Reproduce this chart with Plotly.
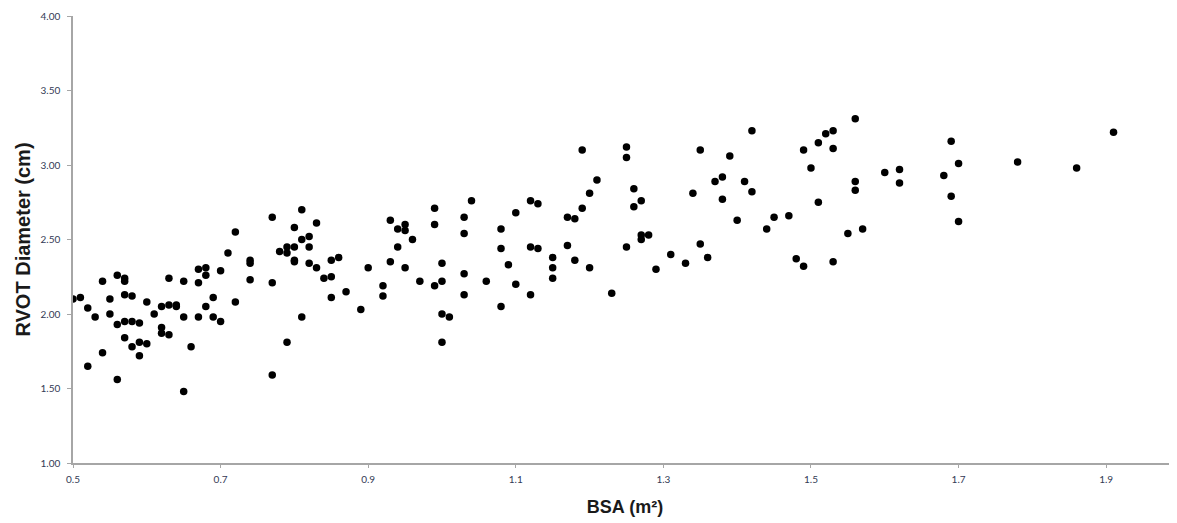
import plotly.graph_objects as go

bsa = [0.50, 0.51, 0.52, 0.53, 0.52, 0.54, 0.54, 0.55, 0.55, 0.56, 0.56, 0.56,
       0.57, 0.57, 0.57, 0.57, 0.57, 0.58, 0.58, 0.58, 0.59, 0.59, 0.59, 0.60,
       0.60, 0.61, 0.62, 0.62, 0.62, 0.63, 0.63, 0.63, 0.64, 0.64, 0.65, 0.65,
       0.65, 0.66, 0.67, 0.67, 0.67, 0.68, 0.68, 0.68, 0.69, 0.69, 0.70, 0.70,
       0.71, 0.72, 0.72, 0.74, 0.74, 0.74, 0.77, 0.77, 0.77, 0.78, 0.79, 0.79,
       0.79, 0.80, 0.80, 0.80, 0.80, 0.81, 0.81, 0.81, 0.82, 0.82, 0.82, 0.83,
       0.83, 0.84, 0.85, 0.85, 0.85, 0.86, 0.87, 0.89, 0.90, 0.92, 0.92, 0.93,
       0.93, 0.94, 0.94, 0.95, 0.95, 0.95, 0.96, 0.97, 0.99, 0.99, 0.99, 1.00,
       1.00, 1.00, 1.01, 1.00, 1.03, 1.03, 1.03, 1.03, 1.04, 1.06, 1.08, 1.08,
       1.08, 1.09, 1.10, 1.10, 1.12, 1.13, 1.12, 1.13, 1.12, 1.15, 1.15, 1.15,
       1.17, 1.18, 1.17, 1.18, 1.19, 1.19, 1.20, 1.21, 1.20, 1.23, 1.25, 1.25,
       1.25, 1.26, 1.26, 1.27, 1.27, 1.27, 1.28, 1.29, 1.31, 1.33, 1.34, 1.35,
       1.35, 1.36, 1.37, 1.38, 1.38, 1.39, 1.40, 1.41, 1.42, 1.42, 1.44, 1.45,
       1.47, 1.48, 1.49, 1.49, 1.50, 1.51, 1.51, 1.52, 1.53, 1.53, 1.53, 1.55,
       1.56, 1.56, 1.56, 1.57, 1.60, 1.62, 1.62, 1.68, 1.69, 1.69, 1.70, 1.70,
       1.78, 1.86, 1.91]

rvot = [2.10, 2.11, 2.04, 1.98, 1.65, 2.22, 1.74, 2.10, 2.00, 2.26, 1.93, 1.56,
        2.24, 2.22, 2.13, 1.95, 1.84, 2.12, 1.95, 1.78, 1.94, 1.81, 1.72, 2.08,
        1.80, 2.00, 2.05, 1.91, 1.87, 2.24, 2.06, 1.86, 2.06, 2.05, 2.22, 1.98,
        1.48, 1.78, 2.30, 2.21, 1.98, 2.31, 2.26, 2.05, 2.11, 1.98, 2.29, 1.95,
        2.41, 2.55, 2.08, 2.36, 2.34, 2.23, 2.65, 2.21, 1.59, 2.42, 2.45, 2.41,
        1.81, 2.58, 2.45, 2.36, 2.35, 2.70, 2.50, 1.98, 2.52, 2.45, 2.34, 2.61,
        2.31, 2.24, 2.36, 2.25, 2.11, 2.38, 2.15, 2.03, 2.31, 2.19, 2.12, 2.63,
        2.35, 2.57, 2.45, 2.60, 2.56, 2.31, 2.50, 2.22, 2.71, 2.60, 2.19, 2.34,
        2.22, 2.00, 1.98, 1.81, 2.65, 2.54, 2.27, 2.13, 2.76, 2.22, 2.57, 2.44,
        2.05, 2.33, 2.68, 2.20, 2.76, 2.74, 2.45, 2.44, 2.13, 2.38, 2.31, 2.24,
        2.65, 2.64, 2.46, 2.36, 2.71, 3.10, 2.81, 2.90, 2.31, 2.14, 3.12, 3.05,
        2.45, 2.84, 2.72, 2.76, 2.53, 2.50, 2.53, 2.30, 2.40, 2.34, 2.81, 3.10,
        2.47, 2.38, 2.89, 2.92, 2.77, 3.06, 2.63, 2.89, 2.82, 3.23, 2.57, 2.65,
        2.66, 2.37, 2.32, 3.10, 2.98, 3.15, 2.75, 3.21, 3.23, 3.11, 2.35, 2.54,
        3.31, 2.89, 2.83, 2.57, 2.95, 2.97, 2.88, 2.93, 3.16, 2.79, 3.01, 2.62,
        3.02, 2.98, 3.22]

x_ticks = [0.5, 0.7, 0.9, 1.1, 1.3, 1.5, 1.7, 1.9]
x_tick_labels = ["0.5", "0.7", "0.9", "1.1", "1.3", "1.5", "1.7", "1.9"]
y_ticks = [1.0, 1.5, 2.0, 2.5, 3.0, 3.5, 4.0]
y_tick_labels = ["1.00", "1.50", "2.00", "2.50", "3.00", "3.50", "4.00"]

fig = go.Figure()
fig.add_trace(go.Scatter(
    x=bsa, y=rvot, mode="markers",
    marker=dict(color="black", size=7.5, line=dict(width=0)),
    showlegend=False,
))

axis_color = "#a6a6a6"
tick_font = dict(family="Lato, Open Sans, sans-serif", size=10, color="#333a55")
title_family = "Liberation Sans, Arial, sans-serif"

# The page body has an 8px default margin, so the figure is sized and
# margined to put the plot area where the reference has it.
fig.update_layout(
    width=1169, height=515,
    margin=dict(l=65, r=0, t=8, b=60),
    paper_bgcolor="white", plot_bgcolor="white",
    font=dict(family="Lato, Open Sans, sans-serif"),
    xaxis=dict(
        range=[0.5, 1.996], showgrid=False, zeroline=False,
        showline=True, linecolor=axis_color, linewidth=1.5,
        tickmode="array", tickvals=x_ticks, ticktext=x_tick_labels,
        ticks="outside", ticklen=3, tickcolor=axis_color, tickwidth=1,
        tickfont=tick_font, ticklabelstandoff=3,
        title=dict(text="<b>BSA (m²)</b>", font=dict(size=18, color="#1a1a1a",
                   family=title_family), standoff=17),
    ),
    yaxis=dict(
        range=[1.0, 4.0], showgrid=False, zeroline=False,
        showline=True, linecolor=axis_color, linewidth=1.5,
        tickmode="array", tickvals=y_ticks, ticktext=y_tick_labels,
        ticks="outside", ticklen=4, tickcolor=axis_color, tickwidth=1,
        tickfont=tick_font, ticklabelstandoff=5,
        title=dict(text="<b>RVOT Diameter (cm)</b>", font=dict(size=20, color="#1a1a1a",
                   family=title_family), standoff=4),
    ),
)

fig.write_html("out.html")
